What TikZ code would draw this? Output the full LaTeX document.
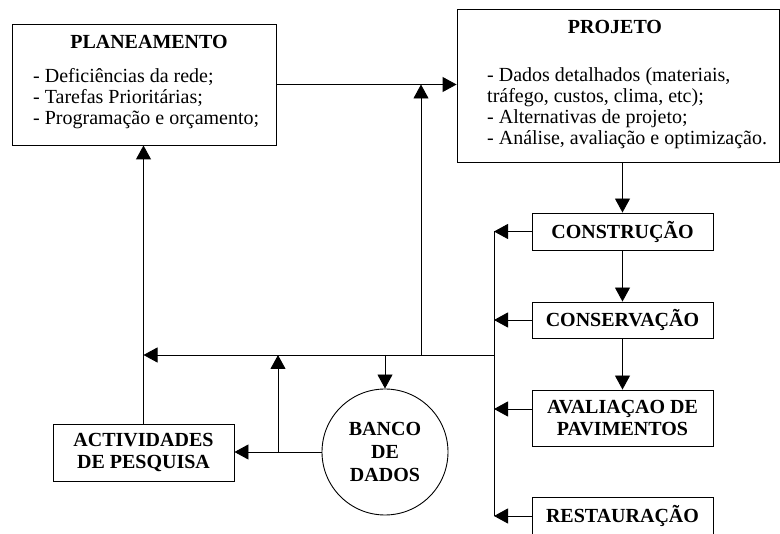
\documentclass[tikz,border=0pt]{standalone}
\usepackage{fontspec}
\setmainfont{Liberation Serif}
\usetikzlibrary{arrows.meta}

\tikzset{
  caixa/.style={draw, line width=0.9pt, inner sep=0pt, align=center,
    font=\fontsize{20}{22}\selectfont\bfseries},
  etapa/.style={caixa, minimum width=181pt},
  titulo/.style={inner sep=0pt, font=\fontsize{20}{20}\selectfont\bfseries},
  texto/.style={inner sep=0pt, align=left, font=\fontsize{20}{21}\selectfont},
  linha/.style={line width=0.9pt},
  seta/.style={linha, -{Triangle[length=14pt,width=15pt]}},
}

\begin{document}
\begin{tikzpicture}[x=1pt,y=-1pt]
  \useasboundingbox (0,0) rectangle (780,534);
  % caixas de cima
  \node[caixa, minimum width=264pt, minimum height=121pt] (plan) at (144,84.5) {};
  \node[titulo] (planT) at (149,42) {PLANEAMENTO};
  \node[texto, anchor=west] (planL) at (33,99) {- Deficiências da rede;\\- Tarefas Prioritárias;\\- Programação e orçamento;};
  \node[caixa, minimum width=322pt, minimum height=153pt] (proj) at (618,85.5) {};
  \node[titulo] (projT) at (615,27) {PROJETO};
  \node[texto, anchor=west] (projL) at (487,108.5) {- Dados detalhados (materiais,\\tráfego, custos, clima, etc);\\- Alternativas de projeto;\\- Análise, avaliação e optimização.};
  % etapas
  \node[etapa, minimum height=37pt] (cons) at (622.5,231.5) {CONSTRUÇÃO};
  \node[etapa, minimum height=36pt] (conserv) at (622.5,320) {CONSERVAÇÃO};
  \node[etapa, minimum height=56pt] (aval) at (622.5,418) {AVALIAÇAO DE\\PAVIMENTOS};
  \node[etapa, minimum height=38pt] (rest) at (622.5,516) {RESTAURAÇÃO};
  % pesquisa e banco
  \node[etapa, minimum height=57pt] (actv) at (143.5,452.5) {ACTIVIDADES\\DE PESQUISA};
  \node[caixa, circle, minimum size=126pt, font=\fontsize{20}{23}\selectfont\bfseries] (banco) at (385,452) {BANCO\\DE\\DADOS};

  \coordinate (bus) at (494,355);
  \coordinate (p1) at (278,0);
  \coordinate (p2) at (421,0);

  \draw[seta] (plan.east) -- (plan.east -| proj.west);
  \draw[seta] (proj.south -| cons.north) -- (cons.north);
  \draw[seta] (cons.south) -- (conserv.north);
  \draw[seta] (conserv.south) -- (aval.north);
  % retorno
  \draw[seta] (cons.west) -- (cons.west -| bus);
  \draw[seta] (conserv.west) -- (conserv.west -| bus);
  \draw[seta] ([yshift=9pt]aval.west) -- ([yshift=9pt]aval.west -| bus);
  \draw[seta] (rest.west) -- (rest.west -| bus);
  \draw[linha] (cons.west -| bus) -- (rest.west -| bus);
  \draw[seta] (bus) -- (bus -| actv.north);
  \draw[seta] (actv.north) -- (actv.north |- plan.south);
  \draw[seta] (bus -| banco.north) -- (banco.north);
  \draw[seta] (banco.west) -- (banco.west -| actv.east);
  \draw[seta] (banco.west -| p1) -- (bus -| p1);
  \draw[seta] (bus -| p2) -- (plan.east -| p2);
\end{tikzpicture}
\end{document}
